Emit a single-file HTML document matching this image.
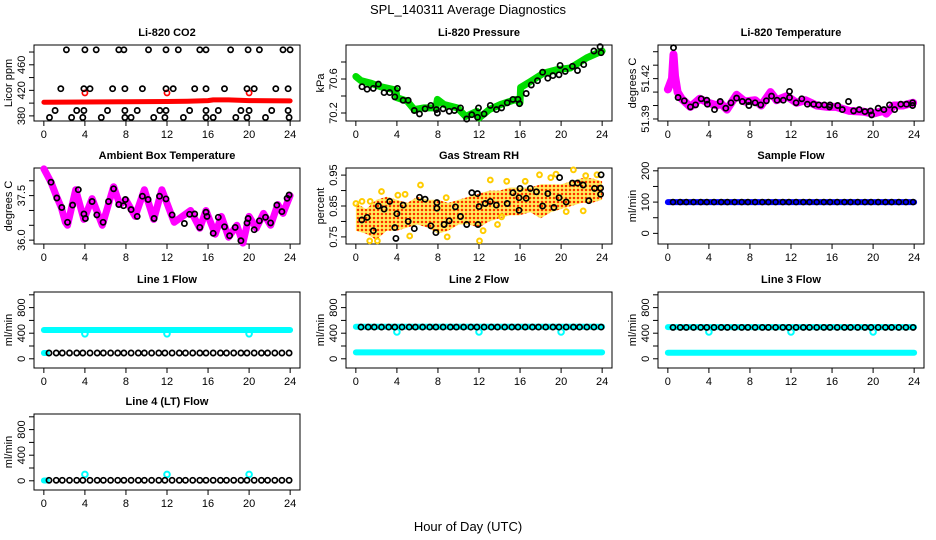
<!DOCTYPE html>
<html><head><meta charset="utf-8">
<style>
html,body{margin:0;padding:0;background:#fff;}
svg{display:block;font-family:"Liberation Sans",sans-serif;}
</style></head>
<body>
<svg id="chart" width="936" height="540" viewBox="0 0 936 540" xmlns="http://www.w3.org/2000/svg">
<defs>
<pattern id="rhpat" width="4" height="4" patternUnits="userSpaceOnUse">
<rect x="0" y="0" width="4" height="4" fill="#ffd000" opacity="0.55"/>
<circle cx="2" cy="2" r="1.5" fill="#ffcc00"/>
<rect x="1" y="1" width="2" height="2" fill="#ff3000"/>
</pattern>
</defs>
<rect width="936" height="540" fill="#fff"/>
<text x="468" y="14" font-size="13" text-anchor="middle">SPL_140311  Average Diagnostics</text>
<text x="468" y="531" font-size="13" text-anchor="middle">Hour of Day (UTC)</text>
</svg>
<script>
// ---------- data ----------
const xTicks=[0,4,8,12,16,20,24];
// CO2
const co2BandHours=[0,4,8,12,14,16,16.5,18,20,22,24];
const co2BandVals=[401.5,401.8,402,402.5,403,404,405,405,404,403.8,403.5];
const co2TopHours=[2.2,4.0,5.1,7.3,7.8,10.2,11.9,13.1,15.2,15.8,18.2,19.9,21.0,23.3,24.0];
const co2TopVals=[483.5,483.5,483.5,483.5,483.5,483.5,483.5,483.5,483.5,483.5,483.5,483.5,483.5,483.5,483.5];
const co2MidHours=[1.65,3.9,4.5,6.7,7.9,9.6,11.9,12.6,14.7,15.8,17.6,19.8,20.5,22.6,23.8];
const co2MidVals=[422.5,422.5,422.5,422.5,422.5,422.5,422.5,422.5,422.5,422.5,422.5,422.5,422.5,422.5,422.5];
const co2LowHours=[1.1,3.2,3.9,6.2,7.9,9.1,11.3,11.9,14.2,15.8,17.0,19.2,20.0,22.2,23.8];
const co2LowVals=[388.5,388.5,388.5,388.5,388.5,388.5,388.5,388.5,388.5,388.5,388.5,388.5,388.5,388.5,388.5];
const co2BotHours=[0.55,2.7,3.8,5.6,7.9,8.5,10.7,11.8,13.6,15.8,16.5,18.7,19.8,21.6,23.9];
const co2BotVals=[377.5,377.5,377.5,377.5,377.5,377.5,377.5,377.5,377.5,377.5,377.5,377.5,377.5,377.5,377.5];
const co2RedHours=[4,12,20];
const co2RedVals=[416,416,416];
// Pressure
const presBandHours=[0,0.5,1.5,2.4,3.9,4,5,5.7,6.6,7.8,7.95,8.6,9.9,10.7,11.8,12,13,14.1,15.6,16,16.05,17,18.3,19.6,20.9,22.5,24];
const presBandVals=[70.63,70.58,70.55,70.51,70.47,70.38,70.34,70.24,70.26,70.26,70.36,70.3,70.26,70.16,70.22,70.14,70.24,70.3,70.36,70.32,70.5,70.57,70.67,70.71,70.73,70.85,70.93];
const presPtHours=[0.6,1.1,1.7,2.2,2.75,3.3,3.8,4.05,4.6,5.1,5.7,6.2,6.75,7.3,7.85,7.95,8.5,9.1,9.6,10.2,10.8,11.3,11.85,11.95,12.5,13.1,13.7,14.2,14.75,15.3,15.8,15.95,16.6,17.1,17.7,18.2,18.7,19.2,19.8,19.9,20.4,21.1,21.6,22.2,23.2,23.8,23.9];
const presPtVals=[70.51,70.48,70.49,70.54,70.44,70.44,70.39,70.49,70.35,70.35,70.23,70.19,70.25,70.29,70.24,70.2,70.25,70.22,70.23,70.26,70.13,70.18,70.15,70.26,70.19,70.29,70.24,70.26,70.32,70.36,70.36,70.31,70.43,70.53,70.58,70.68,70.61,70.64,70.65,70.76,70.69,70.75,70.7,70.77,70.93,70.98,70.91];
// Li-820 temperature
const tempBandHours=[0,0.4,0.55,0.7,0.95,1.35,2.2,3.1,3.95,4.8,5.1,5.75,6.7,7.5,8.5,9.1,10,10.6,11.6,12.55,13.4,14.5,15.6,16.4,17.7,19.0,20,21,21.3,22,22.9,23.9];
const tempBandVals=[51.412,51.42,51.438,51.422,51.41,51.405,51.399,51.405,51.402,51.4,51.402,51.397,51.408,51.403,51.404,51.4,51.41,51.404,51.407,51.402,51.404,51.4,51.399,51.399,51.396,51.3955,51.394,51.396,51.394,51.4,51.4,51.402];
const tempPtHours=[0.55,1.0,1.6,2.2,2.7,3.25,3.8,3.85,4.55,5.1,5.65,6.15,6.7,7.25,7.85,7.9,8.5,9.05,9.6,10.1,10.65,11.25,11.85,11.85,12.5,13.05,13.6,14.2,14.7,15.25,15.75,15.8,16.55,17.0,17.6,18.1,18.65,19.2,19.75,19.85,20.5,21.05,21.6,22.1,22.7,23.25,23.85,23.85];
const tempPtVals=[51.443,51.406,51.4035,51.399,51.4005,51.405,51.404,51.401,51.397,51.403,51.398,51.402,51.4055,51.403,51.403,51.4,51.402,51.4005,51.4035,51.407,51.404,51.404,51.4105,51.406,51.402,51.405,51.401,51.401,51.4005,51.4005,51.399,51.4005,51.4,51.397,51.403,51.396,51.397,51.3955,51.396,51.393,51.398,51.397,51.4005,51.397,51.401,51.401,51.402,51.4];
// Ambient
const ambBandHours=[0,0.7,1.2,1.7,2.1,2.3,3.1,3.9,4.7,5.7,6.8,7.4,8,8.9,9.8,10.7,11.5,12.7,13.5,14.3,15.2,15.8,16.7,17.3,18.0,18.8,19.4,20.0,20.7,21.4,22.1,22.8,23.3,24];
const ambBandVals=[38.4,37.95,37.5,37.1,36.6,36.5,37.7,36.7,37.4,36.5,37.8,37.2,37.35,36.8,37.7,36.7,37.7,36.6,36.8,37.0,36.4,37.0,36.2,36.8,36.1,36.5,35.9,36.8,36.4,36.9,36.5,37.2,36.9,37.5];
const ambPtHours=[0.7,1.26,1.75,2.3,2.8,3.36,3.9,4.05,4.7,5.16,5.77,6.3,6.8,7.3,7.76,7.95,8.5,9.1,9.6,10.16,10.74,11.27,11.9,12.5,13.7,14.2,14.7,15.2,15.8,15.9,16.5,17.0,17.6,18.1,18.65,19.2,19.8,19.9,20.5,21.0,21.6,22.1,22.7,23.2,23.7,23.9];
const ambPtVals=[37.95,37.42,37.1,36.6,37.18,37.7,36.88,36.73,37.3,36.85,36.6,37.3,37.73,37.2,37.16,37.37,37.03,36.8,37.48,37.37,36.73,37.48,37.39,36.85,36.56,36.87,36.88,36.43,36.94,36.8,36.23,36.77,36.45,36.15,36.43,35.98,36.58,36.73,36.35,36.65,36.77,36.58,37.18,36.96,37.41,37.52];
// RH
const rhEnvHours=[0,1,2,3,4,5,6,7,8,9,10,11,12,13,14,15,16,17,18,19,20,21,22,23,24];
const rhLow=[0.77,0.76,0.74,0.77,0.77,0.78,0.79,0.78,0.76,0.77,0.79,0.79,0.78,0.80,0.81,0.82,0.82,0.83,0.81,0.83,0.84,0.85,0.86,0.86,0.87];
const rhHigh=[0.86,0.84,0.87,0.88,0.87,0.86,0.88,0.87,0.87,0.86,0.87,0.88,0.89,0.90,0.90,0.91,0.91,0.91,0.92,0.92,0.92,0.93,0.94,0.94,0.93];
const rhOutHours=[0,0.6,1.4,1.35,2.1,2.5,4.1,4.8,5.25,6.3,8.8,8.9,12.05,12.4,13.1,13.8,14.7,16.5,17.9,19,19.5,21.2,22.15,22.4,23.5,20.5,14.2];
const rhOutVals=[0.858,0.865,0.865,0.737,0.737,0.897,0.885,0.888,0.753,0.918,0.877,0.75,0.737,0.77,0.934,0.79,0.93,0.93,0.951,0.942,0.953,0.967,0.834,0.948,0.951,0.832,0.815];
const rhPtHours=[0.58,1.1,1.7,2.2,2.75,3.3,3.8,3.9,4.0,4.6,5.1,5.7,6.2,6.75,7.3,7.8,7.9,7.9,8.6,9.1,9.7,10.2,10.8,11.3,11.85,11.9,12.0,12.6,13.1,13.7,14.75,15.3,15.9,15.9,16.0,16.6,17.0,17.6,18.2,18.7,19.3,19.85,19.8,20.5,21.1,21.6,22.15,22.7,23.25,23.9,23.85,23.85];
const rhPtVals=[0.805,0.813,0.77,0.85,0.84,0.865,0.78,0.745,0.825,0.853,0.80,0.777,0.878,0.872,0.786,0.764,0.861,0.843,0.79,0.802,0.847,0.816,0.79,0.893,0.89,0.79,0.848,0.858,0.865,0.853,0.858,0.893,0.836,0.877,0.907,0.875,0.907,0.896,0.85,0.89,0.845,0.942,0.877,0.863,0.924,0.924,0.918,0.867,0.907,0.951,0.888,0.908];
// Flows
const flowHours=[0.5,1.2,1.8,2.5,3.2,3.8,4.5,5.2,5.8,6.5,7.2,7.8,8.5,9.2,9.8,10.5,11.2,11.8,12.5,13.2,13.8,14.5,15.2,15.8,16.5,17.2,17.8,18.5,19.2,19.8,20.5,21.2,21.8,22.5,23.2,23.9];
const sampleVals=[100,100,100,100,100,100,100,100,100,100,100,100,100,100,100,100,100,100,100,100,100,100,100,100,100,100,100,100,100,100,100,100,100,100,100,100];
const line1Vals=[90,90,90,90,90,90,90,90,90,90,90,90,90,90,90,90,90,90,90,90,90,90,90,90,90,90,90,90,90,90,90,90,90,90,90,90];
const line2Vals=[495,495,495,495,495,495,495,495,495,495,495,495,495,495,495,495,495,495,495,495,495,495,495,495,495,495,495,495,495,495,495,495,495,495,495,495];
const line3Vals=[490,490,490,490,490,490,490,490,490,490,490,490,490,490,490,490,490,490,490,490,490,490,490,490,490,490,490,490,490,490,490,490,490,490,490,490];
const line4Vals=[8,8,8,8,8,8,8,8,8,8,8,8,8,8,8,8,8,8,8,8,8,8,8,8,8,8,8,8,8,8,8,8,8,8,8,8];
const bandFullHours=[0,24];
const bandStartHours=[0,0.3];
const sampleBand=[100,100];
const line1High=[450,450];
const line1LowStart=[90,90];
const line2High=[500,500];
const line2Low=[100,100];
const line3High=[495,495];
const line3Low=[95,95];
const line4Start=[5,5];
const dipHours=[4,12,20];
const line1Dips=[390,390,390];
const line23Dips=[420,420,420];
const line4Dips=[100,100,100];

// ---------- layout ----------
const NS="http://www.w3.org/2000/svg";
const svg=document.getElementById('chart');
const X0=-0.96,X1=24.96;
const COLS=[[34,300],[346,612],[658,924]];
const ROWS=[45,168,292,414];
function mkPanel(r,c,y0,y1,ticks,labels,title,ylab,name){
  return {L:COLS[c][0],R:COLS[c][1],T:ROWS[r],B:ROWS[r]+76,y0:y0,y1:y1,ticks:ticks,labels:labels,title:title,ylab:ylab,name:name};
}
function el(tag,attrs,parent){const e=document.createElementNS(NS,tag);for(const k in attrs)e.setAttribute(k,attrs[k]);(parent||svg).appendChild(e);return e;}
function sx(p,h){return p.L+(h-X0)/(X1-X0)*(p.R-p.L);}
function sy(p,v){return p.B-(v-p.y0)/(p.y1-p.y0)*(p.B-p.T);}

function drawPanel(p){
  const g=el('g',{});
  
  
  p.g=g;
  const box=el('rect',{x:p.L,y:p.T,width:p.R-p.L,height:p.B-p.T,fill:'none',stroke:'#000','stroke-width':1},g);
  
  
  const t=el('text',{x:(p.L+p.R)/2,y:p.T-9,'font-size':11,'font-weight':'bold','text-anchor':'middle'},g);
  t.textContent=p.title;
  
  
  const yl=el('text',{x:0,y:0,'font-size':11,'text-anchor':'middle',transform:'translate('+(p.L-22)+','+((p.T+p.B)/2)+') rotate(-90)'},g);
  yl.textContent=p.ylab;
  
  
  p.ticks.forEach(v=>{
    const y=sy(p,v);
    const tk=el('line',{x1:p.L,x2:p.L-5,y1:y,y2:y,stroke:'#000','stroke-width':1},g);
    
    
  });
  p.labels.forEach(s=>{
    const y=sy(p,parseFloat(s));
    const tl=el('text',{x:0,y:0,'font-size':11,'text-anchor':'middle',transform:'translate('+(p.L-9)+','+y+') rotate(-90)'},g);
    tl.textContent=s;
    
    
  });
  xTicks.forEach(h=>{
    const x=sx(p,h);
    const tk=el('line',{x1:x,x2:x,y1:p.B,y2:p.B+5,stroke:'#000','stroke-width':1},g);
    
    
    const tl=el('text',{x:x,y:p.B+17,'font-size':11,'text-anchor':'middle'},g);
    tl.textContent=String(h);
    
    
  });
}
function band(p,hrs,vals,color,w,name){
  const pts=hrs.map((h,i)=>sx(p,h).toFixed(1)+','+sy(p,vals[i]).toFixed(1)).join(' ');
  const pl=el('polyline',{points:pts,fill:'none',stroke:color,'stroke-width':w,'stroke-linejoin':'round','stroke-linecap':'round'},p.g);
  
  
}
function pts(p,hrs,vals,color,name,r,sw){
  hrs.forEach((h,i)=>{
    const c=el('circle',{cx:sx(p,h).toFixed(1),cy:sy(p,vals[i]).toFixed(1),r:r||2.6,fill:'none',stroke:color,'stroke-width':sw||1.7},p.g);
    
    
  });
}

const fticks=[0,200,400,600,800,1000], flabels=['0','400','800'];
const pCO2=mkPanel(0,0,372,491,[380,400,420,440,460,480],['380','420','460'],'Li-820 CO2','Licor ppm','co2');
const pPres=mkPanel(0,1,70.106,71.0,[70.2,70.4,70.6,70.8],['70.2','70.6'],'Li-820 Pressure','kPa','pressure');
const pTemp=mkPanel(0,2,51.3885,51.445,[51.39,51.40,51.41,51.42,51.43,51.44],['51.39','51.42'],'Li-820 Temperature','degrees C','li820-temp');
const pAmb=mkPanel(1,0,35.87,38.43,[36.0,36.5,37.0,37.5,38.0],['36.0','37.5'],'Ambient Box Temperature','degrees C','ambient-temp');
const pRH=mkPanel(1,1,0.727,0.973,[0.75,0.80,0.85,0.90,0.95],['0.75','0.85','0.95'],'Gas Stream RH','percent','rh');
const pSamp=mkPanel(1,2,-34,209,[0,50,100,150,200],['0','100','200'],'Sample Flow','ml/min','sample-flow');
const pL1=mkPanel(2,0,-144,1044,fticks,flabels,'Line 1 Flow','ml/min','line1-flow');
const pL2=mkPanel(2,1,-144,1044,fticks,flabels,'Line 2 Flow','ml/min','line2-flow');
const pL3=mkPanel(2,2,-144,1044,fticks,flabels,'Line 3 Flow','ml/min','line3-flow');
const pL4=mkPanel(3,0,-144,1044,fticks,flabels,'Line 4 (LT) Flow','ml/min','line4-flow');
[pCO2,pPres,pTemp,pAmb,pRH,pSamp,pL1,pL2,pL3,pL4].forEach(drawPanel);

// CO2
band(pCO2,co2BandHours,co2BandVals,'#ff0000',5,'co2-band');
pts(pCO2,co2RedHours,co2RedVals,'#ff0000','co2-red-point');
pts(pCO2,co2TopHours,co2TopVals,'#000','co2-point');
pts(pCO2,co2MidHours,co2MidVals,'#000','co2-point');
pts(pCO2,co2LowHours,co2LowVals,'#000','co2-point');
pts(pCO2,co2BotHours,co2BotVals,'#000','co2-point');
// Pressure
band(pPres,presBandHours,presBandVals,'#00dd00',7,'pressure-band');
pts(pPres,presPtHours,presPtVals,'#000','pressure-point');
// Temperature
band(pTemp,tempBandHours,tempBandVals,'#ff00ff',8,'temp-band');
pts(pTemp,tempPtHours,tempPtVals,'#000','temp-point');
// Ambient
band(pAmb,ambBandHours,ambBandVals,'#ff00ff',7,'ambient-band');
pts(pAmb,ambPtHours,ambPtVals,'#000','ambient-point');
// RH
(function(){
  const p=pRH;
  const up=rhEnvHours.map((h,i)=>sx(p,h).toFixed(1)+','+sy(p,rhHigh[i]).toFixed(1));
  const lo=rhEnvHours.map((h,i)=>sx(p,h).toFixed(1)+','+sy(p,rhLow[i]).toFixed(1)).reverse();
  const poly=el('polygon',{points:up.concat(lo).join(' '),fill:'url(#rhpat)',stroke:'none'},p.g);
  
  
})();
pts(pRH,rhOutHours,rhOutVals,'#ffcc00','rh-outlier',2.4,2);
pts(pRH,rhPtHours,rhPtVals,'#000','rh-point');
// Sample
band(pSamp,bandFullHours,sampleBand,'#0000ff',6,'sample-band');
pts(pSamp,flowHours,sampleVals,'#000','sample-point',2.5,1.6);
// Line 1
band(pL1,bandFullHours,line1High,'#00ffff',6,'line1-cyan-band');
band(pL1,bandStartHours,line1LowStart,'#00ffff',6,'line1-cyan-start');
pts(pL1,dipHours,line1Dips,'#00ffff','line1-dip',2.8,2);
pts(pL1,flowHours,line1Vals,'#000','line1-point',2.6,1.7);
// Line 2
band(pL2,bandFullHours,line2High,'#00ffff',6,'line2-cyan-high');
band(pL2,bandFullHours,line2Low,'#00ffff',6,'line2-cyan-low');
pts(pL2,dipHours,line23Dips,'#00ffff','line2-dip',2.8,2);
pts(pL2,flowHours,line2Vals,'#000','line2-point',2.6,1.7);
// Line 3
band(pL3,bandFullHours,line3High,'#00ffff',6,'line3-cyan-high');
band(pL3,bandFullHours,line3Low,'#00ffff',6,'line3-cyan-low');
pts(pL3,dipHours,line23Dips,'#00ffff','line3-dip',2.8,2);
pts(pL3,flowHours,line3Vals,'#000','line3-point',2.6,1.7);
// Line 4
band(pL4,bandStartHours,line4Start,'#00ffff',6,'line4-cyan-start');
pts(pL4,dipHours,line4Dips,'#00ffff','line4-dip',2.8,2);
pts(pL4,flowHours,line4Vals,'#000','line4-point',2.6,1.7);
</script>
</body></html>
